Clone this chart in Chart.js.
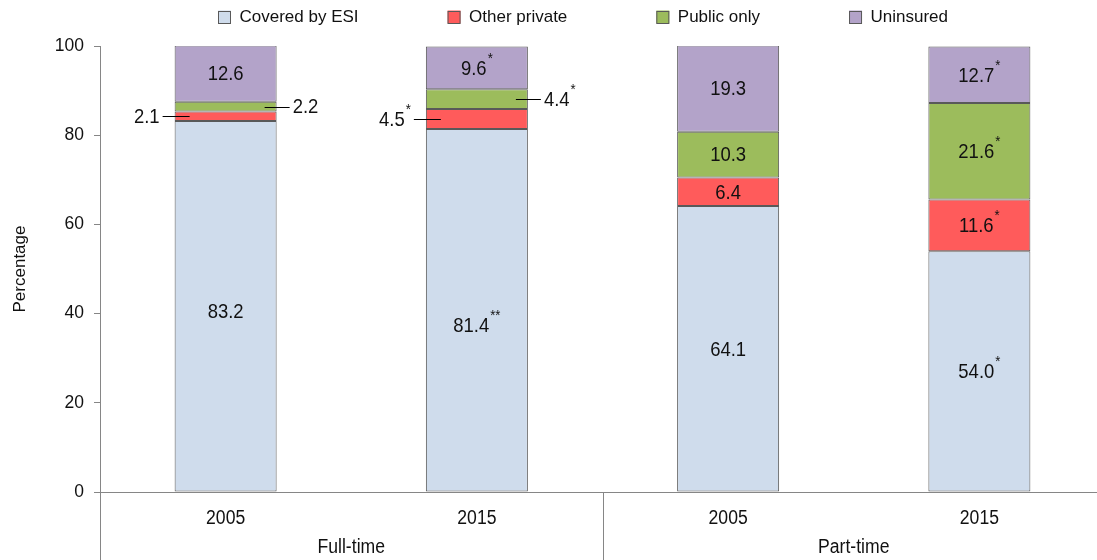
<!DOCTYPE html>
<html><head><meta charset="utf-8">
<script src="https://cdn.jsdelivr.net/npm/chart.js@4.4.0/dist/chart.umd.min.js"></script>
<style>html,body{margin:0;padding:0;background:#fff;overflow:hidden}#wrap{position:relative;width:1105px;height:560px}</style>
</head><body><div id="wrap"><canvas id="c"></canvas></div>
<script>
// ---- data ----
const years = ['2005', '2015', '2005', '2015'];
const groups = ['Full-time', 'Part-time'];
const seriesNames = ['Covered by ESI', 'Other private', 'Public only', 'Uninsured'];
const esi = [83.2, 81.4, 64.1, 54.0];
const otherPrivate = [2.1, 4.5, 6.4, 11.6];
const publicOnly = [2.2, 4.4, 10.3, 21.6];
const uninsured = [12.6, 9.6, 19.3, 12.7];
const esiStars = ['', '**', '', '*'];
const otherStars = ['', '*', '', '*'];
const publicStars = ['', '*', '', '*'];
const uninsuredStars = ['', '*', '', '*'];
const yTicks = [0, 20, 40, 60, 80, 100];

// ---- styling ----
const FONT = "'Liberation Sans', Arial, sans-serif";
const colors = ['#cfdcec', '#ff5b5b', '#9cbc5c', '#b3a3c9'];
const edge = '#595959';
const axisColor = '#868686';
const TXT = '#111';
const LABEL_SIZE = 21, SX = 0.88;   // reference text is slightly condensed
// which labels sit outside the bar with a leader line: dataset -> index -> side
const outside = {1: {0: 'left', 1: 'left'}, 2: {0: 'right', 1: 'right'}};
// small vertical nudges (px) for some in-bar labels, as placed in the reference
const labelNudge = {0: {0: 5, 1: 15}};

const seriesData = [esi, otherPrivate, publicOnly, uninsured];
const seriesStars = [esiStars, otherStars, publicStars, uninsuredStars];

const datasets = seriesNames.map((n, k) => ({
  label: n,
  data: seriesData[k],
  stars: seriesStars[k],
  backgroundColor: colors[k],
  borderColor: edge,
  borderWidth: 1,
  borderSkipped: false,
  barPercentage: 0.406,
  categoryPercentage: 1.0
}));

function measure(ctx, text, size) {
  ctx.font = size + 'px ' + FONT;
  return ctx.measureText(text).width * SX;
}
function drawText(ctx, text, x, y, size, baseline) {
  ctx.save();
  ctx.font = size + 'px ' + FONT;
  ctx.textAlign = 'left';
  ctx.textBaseline = baseline || 'middle';
  ctx.fillStyle = TXT;
  ctx.translate(x, y);
  ctx.scale(SX, 1);
  ctx.fillText(text, 0, 0);
  ctx.restore();
}

const labelPlugin = {
  id: 'segLabels',
  afterDatasetsDraw(chart) {
    const ctx = chart.ctx;
    ctx.save();
    chart.data.datasets.forEach((ds, di) => {
      const meta = chart.getDatasetMeta(di);
      meta.data.forEach((bar, i) => {
        const v = ds.data[i];
        const star = ds.stars[i];
        const txt = v.toFixed(1);
        const nudge = (labelNudge[di] && labelNudge[di][i]) || 0;
        const cy = (bar.y + bar.base) / 2;
        const w = measure(ctx, txt, LABEL_SIZE);
        const sw = star ? measure(ctx, star, 15) + 1 : 0;
        const side = outside[di] && outside[di][i];
        let tx;
        ctx.strokeStyle = '#000';
        ctx.lineWidth = 1;
        if (!side) {
          tx = bar.x - (w + sw) / 2;
        } else if (side === 'left') {
          const e = bar.x - bar.width / 2;
          ctx.beginPath();
          ctx.moveTo(e + 15, Math.round(cy) + 0.5);
          ctx.lineTo(e - 12, Math.round(cy) + 0.5);
          ctx.stroke();
          tx = e - 15 - (w + sw);
        } else {
          const e = bar.x + bar.width / 2;
          ctx.beginPath();
          ctx.moveTo(e - 12, Math.round(cy) + 0.5);
          ctx.lineTo(e + 13, Math.round(cy) + 0.5);
          ctx.stroke();
          tx = e + 16;
        }
        const ty = cy + 1 + nudge;
        drawText(ctx, txt, tx, ty, LABEL_SIZE);
        if (star) drawText(ctx, star, tx + w + 1, ty - 6, 15, 'alphabetic');
      });
    });
    ctx.restore();
  }
};

const groupPlugin = {
  id: 'groups',
  afterDraw(chart) {
    const ctx = chart.ctx;
    const xs = chart.scales.x;
    const a = chart.chartArea;
    ctx.save();
    ctx.strokeStyle = axisColor;
    ctx.lineWidth = 1;
    const per = years.length / groups.length;
    for (let g = 0; g <= groups.length; g++) {
      const px = Math.round(xs.getPixelForValue(g * per - 0.5)) + 0.5;
      ctx.beginPath();
      ctx.moveTo(px, a.bottom);
      ctx.lineTo(px, chart.height);
      ctx.stroke();
    }
    // category (year) labels
    years.forEach((y, i) => {
      const cx = xs.getPixelForValue(i);
      const w = measure(ctx, y, 20);
      drawText(ctx, y, cx - w / 2, 518, 20);
    });
    groups.forEach((gname, g) => {
      const cx = xs.getPixelForValue(g * per + (per - 1) / 2);
      const w = measure(ctx, gname, 20);
      drawText(ctx, gname, cx - w / 2, 547, 20);
    });
    ctx.restore();
  }
};

// legend drawn as one row: box + label, fixed gap between items
const legendPlugin = {
  id: 'rowLegend',
  afterDraw(chart) {
    const ctx = chart.ctx;
    ctx.save();
    const box = 13, gap = 89, startX = 218, cy = 17, size = 17;
    let x = startX;
    chart.data.datasets.forEach(ds => {
      ctx.fillStyle = ds.backgroundColor;
      ctx.fillRect(x, cy - box / 2, box, box);
      ctx.strokeStyle = ds.borderColor;
      ctx.lineWidth = 1;
      ctx.strokeRect(x + 0.5, Math.round(cy - box / 2) + 0.5, box - 1, box - 1);
      ctx.font = size + 'px ' + FONT;
      ctx.textBaseline = 'middle';
      ctx.textAlign = 'left';
      ctx.fillStyle = TXT;
      const tx = x + box + 8.5;
      ctx.fillText(ds.label, tx, cy);
      x = tx + ctx.measureText(ds.label).width + gap;
    });
    ctx.restore();
  }
};

new Chart(document.getElementById('c'), {
  type: 'bar',
  data: { labels: years, datasets },
  plugins: [labelPlugin, groupPlugin, legendPlugin],
  options: {
    responsive: true,
    maintainAspectRatio: false,
    animation: false,
    layout: { padding: { top: 46, left: 0, right: 0, bottom: 0 } },
    plugins: {
      legend: { display: false },
      tooltip: { enabled: false }
    },
    scales: {
      x: {
        stacked: true,
        grid: { display: false, drawTicks: false },
        border: { display: true, color: axisColor },
        ticks: { display: false },
        afterFit: s => { s.height = 68; }
      },
      y: {
        stacked: true,
        min: 0, max: 100,
        afterBuildTicks: s => { s.ticks = yTicks.map(v => ({ value: v })); },
        grid: { display: true, drawOnChartArea: false, drawTicks: true, tickLength: 6, color: axisColor },
        border: { display: true, color: axisColor },
        ticks: { color: TXT, font: { size: 17.5, family: FONT }, padding: 10 },
        title: { display: true, text: 'Percentage', color: TXT, font: { size: 17, family: FONT }, padding: { top: 10, bottom: 0 } },
        afterFit: s => { s.width = 100; }
      }
    }
  }
});
</script>
</body></html>
